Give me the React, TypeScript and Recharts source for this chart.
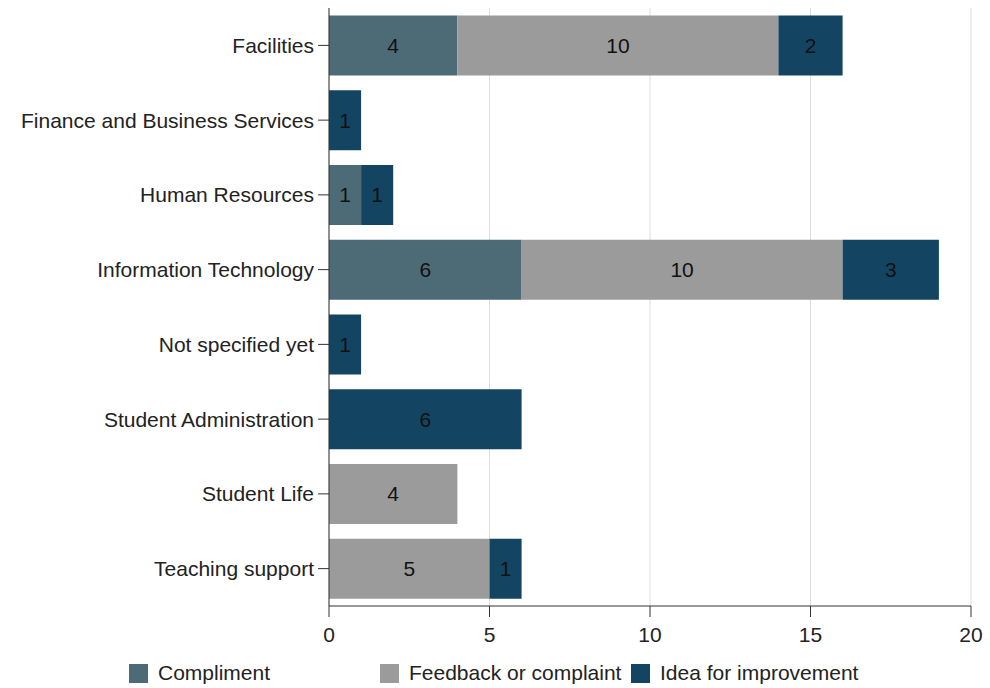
import React from "react"
import {
  BarChart,
  Bar,
  XAxis,
  YAxis,
  CartesianGrid,
  LabelList,
} from "recharts"

const categories = [
  "Facilities",
  "Finance and Business Services",
  "Human Resources",
  "Information Technology",
  "Not specified yet",
  "Student Administration",
  "Student Life",
  "Teaching support",
]
const compliment = [4, 0, 1, 6, 0, 0, 0, 0]
const feedback = [10, 0, 0, 10, 0, 0, 4, 5]
const idea = [2, 1, 1, 3, 1, 6, 0, 1]
const xTicks = [0, 5, 10, 15, 20]

const series = [
  { key: "compliment", name: "Compliment", color: "#4d6b77" },
  { key: "feedback", name: "Feedback or complaint", color: "#9b9b9b" },
  { key: "idea", name: "Idea for improvement", color: "#134563" },
]

const data = categories.map((name, i) => ({
  name,
  compliment: compliment[i],
  feedback: feedback[i],
  idea: idea[i],
}))

const font = "'Liberation Sans', Arial, sans-serif"
const fs = 21

function ChartLegend() {
  return (
    <div
      style={{
        position: "absolute",
        left: 129,
        top: 662,
        display: "flex",
        fontFamily: font,
        fontSize: fs,
        color: "#222",
        lineHeight: "22px",
      }}
    >
      {series.map((s) => (
        <div key={s.key} style={{ width: 251, display: "flex", alignItems: "center", whiteSpace: "nowrap" }}>
          <span style={{ width: 19, height: 19, background: s.color, marginRight: 10, flex: "none" }} />
          <span>{s.name}</span>
        </div>
      ))}
    </div>
  )
}

export default function App() {
  return (
    <div style={{ position: "absolute", left: 0, top: 0, width: 990, height: 688, background: "#fff" }}>
      <BarChart
        width={990}
        height={688}
        data={data}
        layout="vertical"
        margin={{ top: 8, right: 19, bottom: 42, left: 0 }}
        barCategoryGap="10%"
      >
        <CartesianGrid horizontal={false} stroke="#dddddd" />
        <XAxis
          type="number"
          domain={[0, 20]}
          ticks={xTicks}
          stroke="#333"
          tickSize={11}
          tickMargin={10}
          height={40}
          tick={{ fill: "#222", fontSize: fs, fontFamily: font }}
        />
        <YAxis
          type="category"
          dataKey="name"
          width={329}
          stroke="#333"
          tickSize={11}
          tickMargin={4}
          tick={{ fill: "#222", fontSize: fs, fontFamily: font }}
        />
        {series.map((s) => (
          <Bar key={s.key} dataKey={s.key} name={s.name} stackId="a" fill={s.color} isAnimationActive={false}>
            <LabelList
              dataKey={s.key}
              position="center"
              fill="#111"
              fontSize={fs}
              fontFamily={font}
              formatter={(v: any) => (v ? v : "")}
            />
          </Bar>
        ))}
      </BarChart>
      <ChartLegend />
    </div>
  )
}
